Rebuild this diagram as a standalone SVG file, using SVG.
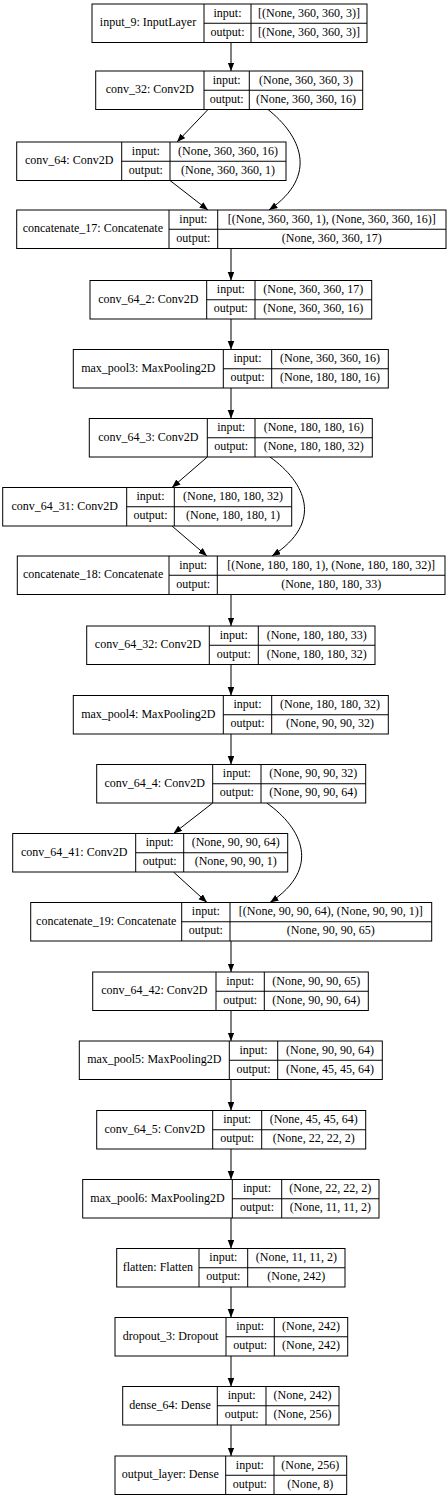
<svg xmlns="http://www.w3.org/2000/svg" width="447" height="1498" viewBox="0 0 447 1498">
<style>
.b{fill:#fff;stroke:#000;stroke-width:1}
.d{stroke:#000;stroke-width:1;fill:none}
text{font-family:"Liberation Serif","Times New Roman",serif;font-size:12px;fill:#000;text-anchor:middle}
.e{stroke:#000;stroke-width:1;fill:none;marker-end:url(#ah)}
</style>
<defs>
<marker id="ah" markerUnits="userSpaceOnUse" markerWidth="9" markerHeight="7" refX="8.5" refY="3.3" orient="auto">
<path d="M0,0 L8.5,3.3 L0,6.6 z" fill="#000"/>
</marker>
</defs>
<rect width="447" height="1498" fill="#fff"/>
<g id="connectors">
<path class="e" d="M231,42.5 L231,71"/>
<path class="e" d="M208,109.5 L177,142"/>
<path class="e" d="M268,109.5 C300,135 320,175 269,210"/>
<path class="e" d="M170,180.5 L208,210"/>
<path class="e" d="M231,248.5 L231,280.5"/>
<path class="e" d="M231,319 L231,349.5"/>
<path class="e" d="M231,388 L231,418.5"/>
<path class="e" d="M207.3,457 L172,487.5"/>
<path class="e" d="M270,457 C305,482 325,522 272,556"/>
<path class="e" d="M172,526 L207,556"/>
<path class="e" d="M231,594.5 L231,626"/>
<path class="e" d="M231,664.5 L231,695.5"/>
<path class="e" d="M231,734 L231,764.5"/>
<path class="e" d="M212.7,803 L173.5,833.5"/>
<path class="e" d="M266.7,803 C302,828 322,868 270,902.5"/>
<path class="e" d="M173.5,872 L207,902.5"/>
<path class="e" d="M231,941 L231,972"/>
<path class="e" d="M231,1010.5 L231,1041"/>
<path class="e" d="M231,1079.5 L231,1110.5"/>
<path class="e" d="M231,1149 L231,1179.5"/>
<path class="e" d="M231,1218 L231,1248.5"/>
<path class="e" d="M231,1287 L231,1317.5"/>
<path class="e" d="M231,1356 L231,1386.5"/>
<path class="e" d="M231,1425 L231,1456"/>
</g>
<g id="input_9">
<rect class="b" x="92" y="4" width="275" height="38.5"/>
<path class="d" d="M204,4 V42.5 M251,4 V42.5 M204,23.25 H367"/>
<text x="148" y="26.3">input_9: InputLayer</text>
<text x="227.5" y="16.8">input:</text><text x="227.5" y="35.8">output:</text>
<text x="309" y="16.8">[(None, 360, 360, 3)]</text><text x="309" y="35.8">[(None, 360, 360, 3)]</text>
</g>
<g id="conv_32">
<rect class="b" x="95.7" y="71" width="267" height="38.5"/>
<path class="d" d="M204,71 V109.5 M249.3,71 V109.5 M204,90.25 H362.7"/>
<text x="149.85" y="93.3">conv_32: Conv2D</text>
<text x="226.65" y="83.8">input:</text><text x="226.65" y="102.8">output:</text>
<text x="306" y="83.8">(None, 360, 360, 3)</text><text x="306" y="102.8">(None, 360, 360, 16)</text>
</g>
<g id="conv_64">
<rect class="b" x="16.7" y="142" width="269.3" height="38.5"/>
<path class="d" d="M121.7,142 V180.5 M170,142 V180.5 M121.7,161.25 H286"/>
<text x="69.2" y="164.3">conv_64: Conv2D</text>
<text x="145.85" y="154.8">input:</text><text x="145.85" y="173.8">output:</text>
<text x="228" y="154.8">(None, 360, 360, 16)</text><text x="228" y="173.8">(None, 360, 360, 1)</text>
</g>
<g id="concatenate_17">
<rect class="b" x="16.7" y="210" width="429.3" height="38.5"/>
<path class="d" d="M169,210 V248.5 M217.7,210 V248.5 M169,229.25 H446"/>
<text x="92.85" y="232.3">concatenate_17: Concatenate</text>
<text x="193.35" y="222.8">input:</text><text x="193.35" y="241.8">output:</text>
<text x="331.85" y="222.8">[(None, 360, 360, 1), (None, 360, 360, 16)]</text><text x="331.85" y="241.8">(None, 360, 360, 17)</text>
</g>
<g id="conv_64_2">
<rect class="b" x="90" y="280.5" width="281.7" height="38.5"/>
<path class="d" d="M206.7,280.5 V319 M255,280.5 V319 M206.7,299.75 H371.7"/>
<text x="148.35" y="302.8">conv_64_2: Conv2D</text>
<text x="230.85" y="293.3">input:</text><text x="230.85" y="312.3">output:</text>
<text x="313.35" y="293.3">(None, 360, 360, 17)</text><text x="313.35" y="312.3">(None, 360, 360, 16)</text>
</g>
<g id="max_pool3">
<rect class="b" x="73.3" y="349.5" width="315" height="38.5"/>
<path class="d" d="M223.3,349.5 V388 M271.7,349.5 V388 M223.3,368.75 H388.3"/>
<text x="148.3" y="371.8">max_pool3: MaxPooling2D</text>
<text x="247.5" y="362.3">input:</text><text x="247.5" y="381.3">output:</text>
<text x="330" y="362.3">(None, 360, 360, 16)</text><text x="330" y="381.3">(None, 180, 180, 16)</text>
</g>
<g id="conv_64_3">
<rect class="b" x="89.3" y="418.5" width="283" height="38.5"/>
<path class="d" d="M207.3,418.5 V457 M255,418.5 V457 M207.3,437.75 H372.3"/>
<text x="148.3" y="440.8">conv_64_3: Conv2D</text>
<text x="231.15" y="431.3">input:</text><text x="231.15" y="450.3">output:</text>
<text x="313.65" y="431.3">(None, 180, 180, 16)</text><text x="313.65" y="450.3">(None, 180, 180, 32)</text>
</g>
<g id="conv_64_31">
<rect class="b" x="2.7" y="487.5" width="289" height="38.5"/>
<path class="d" d="M126.7,487.5 V526 M174.3,487.5 V526 M126.7,506.75 H291.7"/>
<text x="64.7" y="509.8">conv_64_31: Conv2D</text>
<text x="150.5" y="500.3">input:</text><text x="150.5" y="519.3">output:</text>
<text x="233" y="500.3">(None, 180, 180, 32)</text><text x="233" y="519.3">(None, 180, 180, 1)</text>
</g>
<g id="concatenate_18">
<rect class="b" x="17.3" y="556" width="427.7" height="38.5"/>
<path class="d" d="M169,556 V594.5 M217.3,556 V594.5 M169,575.25 H445"/>
<text x="93.15" y="578.3">concatenate_18: Concatenate</text>
<text x="193.15" y="568.8">input:</text><text x="193.15" y="587.8">output:</text>
<text x="331.15" y="568.8">[(None, 180, 180, 1), (None, 180, 180, 32)]</text><text x="331.15" y="587.8">(None, 180, 180, 33)</text>
</g>
<g id="conv_64_32">
<rect class="b" x="86.7" y="626" width="288.3" height="38.5"/>
<path class="d" d="M209.3,626 V664.5 M258.3,626 V664.5 M209.3,645.25 H375"/>
<text x="148" y="648.3">conv_64_32: Conv2D</text>
<text x="233.8" y="638.8">input:</text><text x="233.8" y="657.8">output:</text>
<text x="316.65" y="638.8">(None, 180, 180, 33)</text><text x="316.65" y="657.8">(None, 180, 180, 32)</text>
</g>
<g id="max_pool4">
<rect class="b" x="73.3" y="695.5" width="315" height="38.5"/>
<path class="d" d="M223.3,695.5 V734 M271.7,695.5 V734 M223.3,714.75 H388.3"/>
<text x="148.3" y="717.8">max_pool4: MaxPooling2D</text>
<text x="247.5" y="708.3">input:</text><text x="247.5" y="727.3">output:</text>
<text x="330" y="708.3">(None, 180, 180, 32)</text><text x="330" y="727.3">(None, 90, 90, 32)</text>
</g>
<g id="conv_64_4">
<rect class="b" x="96.7" y="764.5" width="269" height="38.5"/>
<path class="d" d="M212.7,764.5 V803 M261,764.5 V803 M212.7,783.75 H365.7"/>
<text x="154.7" y="786.8">conv_64_4: Conv2D</text>
<text x="236.85" y="777.3">input:</text><text x="236.85" y="796.3">output:</text>
<text x="313.35" y="777.3">(None, 90, 90, 32)</text><text x="313.35" y="796.3">(None, 90, 90, 64)</text>
</g>
<g id="conv_64_41">
<rect class="b" x="12.7" y="833.5" width="275" height="38.5"/>
<path class="d" d="M135.7,833.5 V872 M183.7,833.5 V872 M135.7,852.75 H287.7"/>
<text x="74.2" y="855.8">conv_64_41: Conv2D</text>
<text x="159.7" y="846.3">input:</text><text x="159.7" y="865.3">output:</text>
<text x="235.7" y="846.3">(None, 90, 90, 64)</text><text x="235.7" y="865.3">(None, 90, 90, 1)</text>
</g>
<g id="concatenate_19">
<rect class="b" x="30.7" y="902.5" width="401" height="38.5"/>
<path class="d" d="M181.7,902.5 V941 M230,902.5 V941 M181.7,921.75 H431.7"/>
<text x="106.2" y="924.8">concatenate_19: Concatenate</text>
<text x="205.85" y="915.3">input:</text><text x="205.85" y="934.3">output:</text>
<text x="330.85" y="915.3">[(None, 90, 90, 64), (None, 90, 90, 1)]</text><text x="330.85" y="934.3">(None, 90, 90, 65)</text>
</g>
<g id="conv_64_42">
<rect class="b" x="92.7" y="972" width="275.6" height="38.5"/>
<path class="d" d="M216,972 V1010.5 M264.3,972 V1010.5 M216,991.25 H368.3"/>
<text x="154.35" y="994.3">conv_64_42: Conv2D</text>
<text x="240.15" y="984.8">input:</text><text x="240.15" y="1003.8">output:</text>
<text x="316.3" y="984.8">(None, 90, 90, 65)</text><text x="316.3" y="1003.8">(None, 90, 90, 64)</text>
</g>
<g id="max_pool5">
<rect class="b" x="79.3" y="1041" width="303" height="38.5"/>
<path class="d" d="M229.3,1041 V1079.5 M277.7,1041 V1079.5 M229.3,1060.25 H382.3"/>
<text x="154.3" y="1063.3">max_pool5: MaxPooling2D</text>
<text x="253.5" y="1053.8">input:</text><text x="253.5" y="1072.8">output:</text>
<text x="330" y="1053.8">(None, 90, 90, 64)</text><text x="330" y="1072.8">(None, 45, 45, 64)</text>
</g>
<g id="conv_64_5">
<rect class="b" x="96.7" y="1110.5" width="269" height="38.5"/>
<path class="d" d="M212.7,1110.5 V1149 M261.7,1110.5 V1149 M212.7,1129.75 H365.7"/>
<text x="154.7" y="1132.8">conv_64_5: Conv2D</text>
<text x="237.2" y="1123.3">input:</text><text x="237.2" y="1142.3">output:</text>
<text x="313.7" y="1123.3">(None, 45, 45, 64)</text><text x="313.7" y="1142.3">(None, 22, 22, 2)</text>
</g>
<g id="max_pool6">
<rect class="b" x="82.7" y="1179.5" width="296.3" height="38.5"/>
<path class="d" d="M232.3,1179.5 V1218 M281.7,1179.5 V1218 M232.3,1198.75 H379"/>
<text x="157.5" y="1201.8">max_pool6: MaxPooling2D</text>
<text x="257" y="1192.3">input:</text><text x="257" y="1211.3">output:</text>
<text x="330.35" y="1192.3">(None, 22, 22, 2)</text><text x="330.35" y="1211.3">(None, 11, 11, 2)</text>
</g>
<g id="flatten">
<rect class="b" x="116.7" y="1248.5" width="228.3" height="38.5"/>
<path class="d" d="M199,1248.5 V1287 M247.7,1248.5 V1287 M199,1267.75 H345"/>
<text x="157.85" y="1270.8">flatten: Flatten</text>
<text x="223.35" y="1261.3">input:</text><text x="223.35" y="1280.3">output:</text>
<text x="296.35" y="1261.3">(None, 11, 11, 2)</text><text x="296.35" y="1280.3">(None, 242)</text>
</g>
<g id="dropout_3">
<rect class="b" x="115" y="1317.5" width="232.7" height="38.5"/>
<path class="d" d="M226,1317.5 V1356 M274.3,1317.5 V1356 M226,1336.75 H347.7"/>
<text x="170.5" y="1339.8">dropout_3: Dropout</text>
<text x="250.15" y="1330.3">input:</text><text x="250.15" y="1349.3">output:</text>
<text x="311" y="1330.3">(None, 242)</text><text x="311" y="1349.3">(None, 242)</text>
</g>
<g id="dense_64">
<rect class="b" x="122.7" y="1386.5" width="216.3" height="38.5"/>
<path class="d" d="M217.3,1386.5 V1425 M266,1386.5 V1425 M217.3,1405.75 H339"/>
<text x="170" y="1408.8">dense_64: Dense</text>
<text x="241.65" y="1399.3">input:</text><text x="241.65" y="1418.3">output:</text>
<text x="302.5" y="1399.3">(None, 242)</text><text x="302.5" y="1418.3">(None, 256)</text>
</g>
<g id="output_layer">
<rect class="b" x="115" y="1456" width="231.7" height="38.5"/>
<path class="d" d="M225.7,1456 V1494.5 M274,1456 V1494.5 M225.7,1475.25 H346.7"/>
<text x="170.35" y="1478.3">output_layer: Dense</text>
<text x="249.85" y="1468.8">input:</text><text x="249.85" y="1487.8">output:</text>
<text x="310.35" y="1468.8">(None, 256)</text><text x="310.35" y="1487.8">(None, 8)</text>
</g>
</svg>
